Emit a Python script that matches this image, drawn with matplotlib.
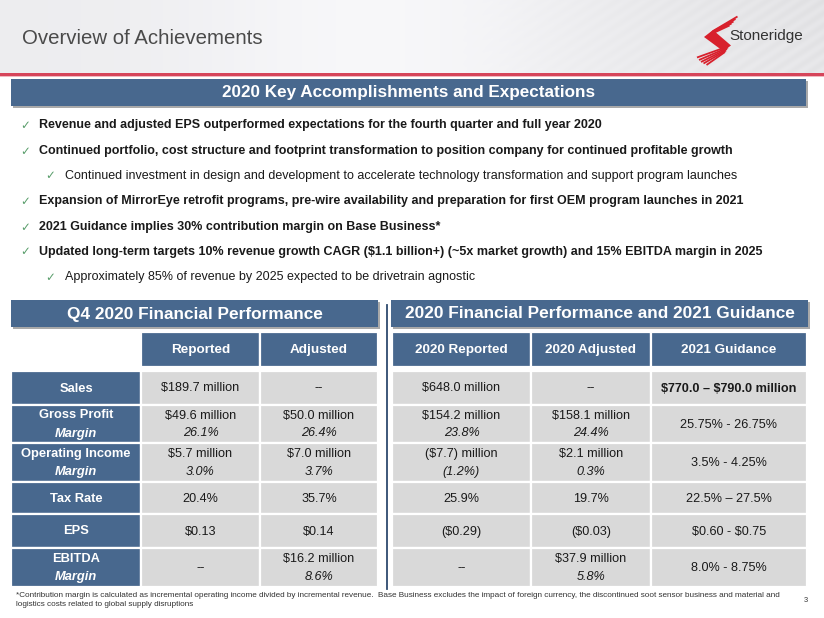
import numpy as np
import matplotlib
matplotlib.use("Agg")
import matplotlib.pyplot as plt
from matplotlib.patches import Rectangle, Polygon

plt.rcParams['font.family'] = ['Liberation Sans', 'DejaVu Sans']

# ---------------- data ----------------
title = "Overview of Achievements"
banner_main = "2020 Key Accomplishments and Expectations"
bullets = [
    (0, "Revenue and adjusted EPS outperformed expectations for the fourth quarter and full year 2020"),
    (0, "Continued portfolio, cost structure and footprint transformation to position company for continued profitable growth"),
    (1, "Continued investment in design and development to accelerate technology transformation and support program launches"),
    (0, "Expansion of MirrorEye retrofit programs, pre-wire availability and preparation for first OEM program launches in 2021"),
    (0, "2021 Guidance implies 30% contribution margin on Base Business*"),
    (0, "Updated long-term targets 10% revenue growth CAGR ($1.1 billion+) (~5x market growth) and 15% EBITDA margin in 2025"),
    (1, "Approximately 85% of revenue by 2025 expected to be drivetrain agnostic"),
]

q4_title = "Q4 2020 Financial Performance"
fy_title = "2020 Financial Performance and 2021 Guidance"

row_labels = ["Sales", "Gross Profit", "Operating Income", "Tax Rate", "EPS", "EBITDA"]
row_sublabels = ["", "Margin", "Margin", "", "", "Margin"]

q4_columns = ["Reported", "Adjusted"]
q4_reported = ["$189.7 million", "$49.6 million", "$5.7 million", "20.4%", "$0.13", "--"]
q4_reported_margin = ["", "26.1%", "3.0%", "", "", ""]
q4_adjusted = ["--", "$50.0 million", "$7.0 million", "35.7%", "$0.14", "$16.2 million"]
q4_adjusted_margin = ["", "26.4%", "3.7%", "", "", "8.6%"]

fy_columns = ["2020 Reported", "2020 Adjusted", "2021 Guidance"]
fy_reported = ["$648.0 million", "$154.2 million", "($7.7) million", "25.9%", "($0.29)", "--"]
fy_reported_margin = ["", "23.8%", "(1.2%)", "", "", ""]
fy_adjusted = ["--", "$158.1 million", "$2.1 million", "19.7%", "($0.03)", "$37.9 million"]
fy_adjusted_margin = ["", "24.4%", "0.3%", "", "", "5.8%"]
fy_guidance = ["$770.0 \u2013 $790.0 million", "25.75% - 26.75%", "3.5% - 4.25%",
               "22.5% \u2013 27.5%", "$0.60 - $0.75", "8.0% - 8.75%"]
fy_guidance_bold = [True, False, False, False, False, False]

footnote = ("*Contribution margin is calculated as incremental operating income divided by incremental revenue.  "
            "Base Business excludes the impact of foreign currency, the discontinued soot sensor business and material and\n"
            "logistics costs related to global supply disruptions")
page_number = "3"

# ---------------- layout ----------------
W, H = 824, 618
BLUE = "#48688E"
GRAY_CELL = "#D9D9D9"
TXT = "#1a1a1a"
GREEN = "#5A9E6C"

fig = plt.figure(figsize=(W / 100, H / 100), dpi=100)
ax = fig.add_axes([0, 0, 1, 1])
ax.set_xlim(0, W)
ax.set_ylim(H, 0)
ax.axis("off")

# header background gradient
xx = np.linspace(0, 1, W)
yy = np.linspace(0, 1, 74)
X, Y = np.meshgrid(xx, yy)
base = 0.93 + 0.04 * np.exp(-((X - 0.45) ** 2) / 0.05) - 0.10 * np.clip(X - 0.6, 0, 1) * (1 - 0.3 * Y)
streak = 0.012 * np.sin((X * 824 + Y * 74 * 1.5) / 3.0) * np.clip(X - 0.55, 0, 1) * 2
img = np.clip(base + streak, 0, 1)
rgb = np.dstack([img, img * 1.0, img * 1.01])
ax.imshow(np.clip(rgb, 0, 1), extent=[0, W, 74, 0], aspect="auto", zorder=0)

# red rule
ax.add_patch(Rectangle((0, 72.5), W, 3, color="#D6455A", lw=0, zorder=2))
ax.add_patch(Rectangle((0, 75.5), W, 1.5, color="#F1B9C0", lw=0, zorder=2))

ax.text(22, 38, title, fontsize=14.7, color="#4a4a4a", va="center", ha="left", zorder=3)

# logo (decorative)
red = "#D8202C"
top_ends = [(737.5, 16.5), (735.5, 19), (733.5, 21.5), (731.5, 23.5), (729.5, 25.5)]
top_starts = [(713, 31), (712, 32), (711, 33), (710, 34), (709, 35)]
for (x0, y0), (x1, y1) in zip(top_starts, top_ends):
    ax.plot([x0, x1], [y0, y1], color=red, lw=1.3, solid_capstyle="butt", zorder=3)
ax.add_patch(Polygon([(704, 37), (713, 30), (731, 45.5), (723, 51)], closed=True, color=red, lw=0, zorder=3))
bot_starts = [(729, 46), (728, 47.5), (727, 49), (726, 50.5), (725, 52)]
bot_ends = [(697, 57.5), (699, 60), (701, 62), (703.5, 63.5), (706.5, 65)]
for (x0, y0), (x1, y1) in zip(bot_starts, bot_ends):
    ax.plot([x0, x1], [y0, y1], color=red, lw=1.3, solid_capstyle="butt", zorder=3)
ax.text(729, 36, "Stoneridge", fontsize=11, color="#333333", va="center", ha="left", zorder=4)


def banner(x0, x1, y0, y1, text, size):
    ax.add_patch(Rectangle((x0 + 2, y0 + 2), x1 - x0, y1 - y0, color="#A9A9A9", lw=0, zorder=2))
    ax.add_patch(Rectangle((x0, y0), x1 - x0, y1 - y0, color=BLUE, lw=0, zorder=3))
    ax.text((x0 + x1) / 2, (y0 + y1) / 2 + 0.5, text, fontsize=size, color="white",
            fontweight="bold", ha="center", va="center", zorder=4, parse_math=False)


banner(11, 806, 79, 106, banner_main, 12.3)

# bullets
bullet_y = [125, 151, 176, 201, 227, 252, 277]
for (lvl, txt), y in zip(bullets, bullet_y):
    cx = 20 if lvl == 0 else 45
    tx = 39 if lvl == 0 else 65
    ax.text(cx, y, "\u2713", fontsize=8.5, color=GREEN, family="DejaVu Sans", va="center", ha="left", zorder=4)
    ax.text(tx, y, txt, fontsize=9, color=TXT, fontweight="bold" if lvl == 0 else "normal",
            va="center", ha="left", zorder=4, parse_math=False)

# tables
banner(11, 378, 300, 327, q4_title, 12.4)
banner(391, 808, 300, 327, fy_title, 12.4)

hdr_y0, hdr_y1 = 332, 367
row_edges = [371, 405, 443, 482, 514, 548, 587]


def cell(x0, x1, y0, y1, color):
    ax.add_patch(Rectangle((x0, y0), x1 - x0, y1 - y0, facecolor=color, edgecolor="white", lw=1.6, zorder=3))


def two_line(xc, y0, y1, top, bottom, color, top_kw, bot_kw):
    yc = (y0 + y1) / 2
    if bottom:
        ax.text(xc, yc - 8.5, top, color=color, ha="center", va="center", zorder=5, parse_math=False, **top_kw)
        ax.text(xc, yc + 9.5, bottom, color=color, ha="center", va="center", zorder=5, parse_math=False, **bot_kw)
    else:
        ax.text(xc, yc + 0.5, top, color=color, ha="center", va="center", zorder=5, parse_math=False, **top_kw)


# left table
q4_x = [(141, 260), (260, 378)]
lab_x = (11, 141)
for (x0, x1), name in zip(q4_x, q4_columns):
    cell(x0, x1, hdr_y0, hdr_y1, BLUE)
    ax.text((x0 + x1) / 2, (hdr_y0 + hdr_y1) / 2 + 0.5, name, fontsize=9.7, fontweight="bold",
            color="white", ha="center", va="center", zorder=5)

q4_vals = [(q4_reported, q4_reported_margin), (q4_adjusted, q4_adjusted_margin)]
for i in range(len(row_labels)):
    y0, y1 = row_edges[i], row_edges[i + 1]
    cell(lab_x[0], lab_x[1], y0, y1, BLUE)
    two_line((lab_x[0] + lab_x[1]) / 2, y0, y1, row_labels[i], row_sublabels[i], "white",
             dict(fontsize=9.3, fontweight="bold"), dict(fontsize=9.3, fontweight="bold", style="italic"))
    for (x0, x1), (vals, margins) in zip(q4_x, q4_vals):
        cell(x0, x1, y0, y1, GRAY_CELL)
        two_line((x0 + x1) / 2, y0, y1, vals[i], margins[i], TXT,
                 dict(fontsize=9.1), dict(fontsize=9.1, style="italic"))

# divider
ax.plot([387, 387], [305, 589], color="#2E4A6E", lw=1.3, zorder=4)

# right table
fy_x = [(392, 531), (531, 651), (651, 807)]
for (x0, x1), name in zip(fy_x, fy_columns):
    cell(x0, x1, hdr_y0, hdr_y1, BLUE)
    ax.text((x0 + x1) / 2, (hdr_y0 + hdr_y1) / 2 + 0.5, name, fontsize=9.7, fontweight="bold",
            color="white", ha="center", va="center", zorder=5)

fy_vals = [(fy_reported, fy_reported_margin), (fy_adjusted, fy_adjusted_margin)]
for i in range(len(row_labels)):
    y0, y1 = row_edges[i], row_edges[i + 1]
    for (x0, x1), (vals, margins) in zip(fy_x[:2], fy_vals):
        cell(x0, x1, y0, y1, GRAY_CELL)
        two_line((x0 + x1) / 2, y0, y1, vals[i], margins[i], TXT,
                 dict(fontsize=9.1), dict(fontsize=9.1, style="italic"))
    x0, x1 = fy_x[2]
    cell(x0, x1, y0, y1, GRAY_CELL)
    two_line((x0 + x1) / 2, y0, y1, fy_guidance[i], "", TXT,
             dict(fontsize=9.1, fontweight="bold" if fy_guidance_bold[i] else "normal"), {})

# footnote
ax.text(16, 592, footnote, fontsize=5.85, color="#333333", ha="left", va="top", linespacing=1.35,
        zorder=5, parse_math=False)
ax.text(806, 600, page_number, fontsize=5.4, color="#333333", ha="center", va="center", zorder=5)

fig.savefig("out.png", dpi=100)
